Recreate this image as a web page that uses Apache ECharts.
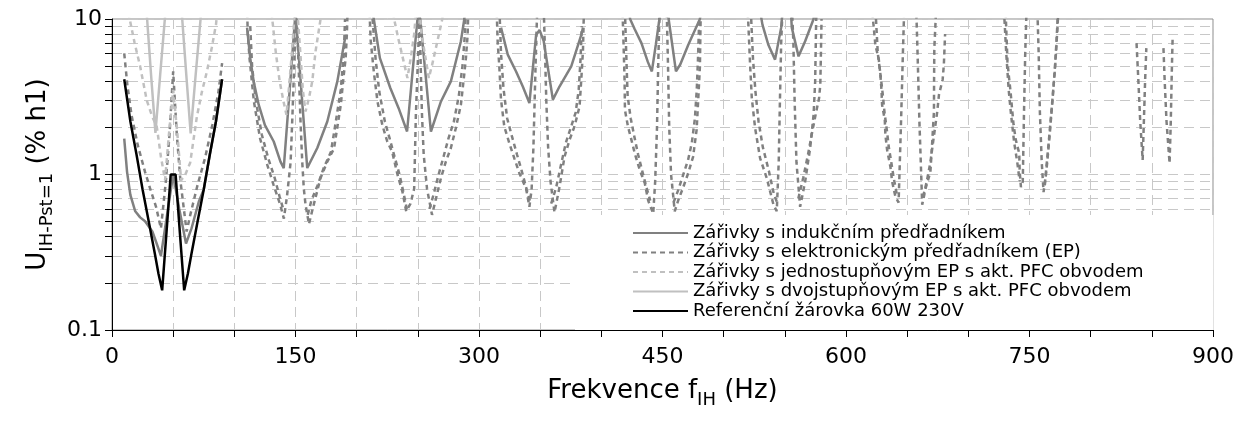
<!DOCTYPE html>
<html>
<head>
<meta charset="utf-8">
<script src="https://cdn.jsdelivr.net/npm/echarts@6/dist/echarts.min.js"></script>
<style>html,body{margin:0;padding:0;background:#fff}#c{width:1246px;height:423px}</style>
</head>
<body>
<div id="c"></div>
<script>
// ---------- axis ticks / labels ----------
const xTicks = [0,50,100,150,200,250,300,350,400,450,500,550,600,650,700,750,800,850,900];
const xLabels = [0,150,300,450,600,750,900];
const yTicks = [0.1,0.2,0.3,0.4,0.5,0.6,0.7,0.8,0.9,1,2,3,4,5,6,7,8,9,10];
const yLabels = [0.1,1,10];

const seriesNames = [
  'Zářivky s indukčním předřadníkem',
  'Zářivky s elektronickým předřadníkem (EP)',
  'Zářivky s jednostupňovým EP s akt. PFC obvodem',
  'Zářivky s dvojstupňovým EP s akt. PFC obvodem',
  'Referenční žárovka 60W 230V'
];

// ---------- data: [frequency Hz, U %h1] ----------
// induction ballast
const indG1 = [[10,1.7],[12.3,1.04],[15,0.74],[19,0.58],[23,0.53],[27,0.5],[33,0.43],[36.5,0.36],[40,0.3],[45,0.55],[50,1.0],[55,0.6],[60.5,0.36],[65,0.45],[71,0.67],[75,0.8],[80,1.35],[85,2.2],[90,4.1]];
const indG3 = [[110.4,8.8],[113,5.6],[115.8,3.97],[119.9,2.81],[125,2.08],[132.2,1.63],[137.7,1.21],[140.4,1.1],[145,3.3],[150,11],[155,3.3],[159.6,1.1],[167.8,1.48],[176,2.19],[184.2,3.97],[191,7.9]];
const indG5 = [[213,11],[214,10],[219,5.6],[227.5,3.6],[234.3,2.67],[241.2,1.89],[245.5,4.4],[249.7,10],[250.5,11],[251.5,11],[252,10],[256.3,4.4],[260.7,1.89],[268.9,2.95],[277,3.97],[285.2,7.2],[288,10],[288.5,11]];
const indG7 = [[318,8.8],[323.5,5.9],[330.3,4.6],[335.8,3.68],[341.2,2.88],[346.7,7.9],[349.5,8.5],[352.9,7.2],[360.4,3.03],[365.8,3.68],[375.4,4.96],[383.6,7.9],[385,8.8]];
const indG9 = [[423,11],[423.5,10],[427.3,8.6],[432.8,7.0],[438,5.3],[441.3,4.6],[444.5,6.8],[447.5,10],[448,11],[454.5,11],[455,10],[458,6.8],[461,4.6],[464.5,5.1],[471,6.8],[480.6,10],[481,11]];
const indG11 = [[530,11],[531.7,9.2],[536.6,6.8],[542,5.48],[547,8.8],[548,11],[555,11],[555.7,8.8],[561.2,5.75],[566.6,7.2],[573.5,10],[574,11]];

// electronic ballast (lamp A)
const epG1 = [[10,6.0],[12.5,3.8],[16,2.4],[21,1.55],[27,1.04],[31,0.82],[36,0.62],[40,0.45],[44,0.9],[47,1.8],[50,4.6],[53,1.8],[56,0.9],[61,0.43],[64,0.55],[70,0.86],[76,1.27],[82,2.08],[87,3.4],[90,5.2]];
const epG3 = [[110.5,11],[111,8.0],[112.5,5.5],[116,2.95],[121,1.71],[127,1.15],[132,0.86],[137.5,0.64],[140.5,0.52],[143,0.72],[146,1.2],[147.5,2.4],[149,5.2],[150.3,11],[151,11],[151.4,8.8],[152.7,4.6],[154.1,2.19],[155.5,1.21],[156.8,0.81],[158.2,0.64],[161,0.48],[164,0.6],[170.5,0.95],[176,1.21],[181.5,1.47],[187,2.8],[189.5,4.4],[191,5.6],[192,8],[192.5,11]];
const epG5 = [[210.5,11],[211.5,7.2],[214,4.6],[217,2.95],[221,2.08],[225,1.63],[229,1.4],[233.5,0.99],[237.5,0.77],[240.5,0.58],[244,0.65],[247,0.81],[248.4,2.42],[249.8,4.8],[251,8.8],[251.5,11],[251.8,8],[252.5,4.4],[253.4,2.42],[254.8,1.34],[257.5,0.81],[261.6,0.55],[264.8,0.7],[268.9,0.95],[272.9,1.21],[277,1.48],[281,1.98],[285.2,2.81],[287.9,4.38],[289.3,5.6],[290.7,7.9],[291.2,11]];
const epG7 = [[314.5,11],[315.3,7.0],[316.6,4.96],[318,3.03],[320.7,2.03],[324.8,1.59],[328.9,1.27],[333,1.02],[338.5,0.81],[341.2,0.62],[343,0.8],[344.5,1.5],[345.5,3],[346.5,6],[347.5,11],[353,11],[354,6],[355,3],[356.5,1.5],[358.5,0.9],[361.7,0.57],[365.8,0.83],[369.9,1.3],[374,1.67],[378,2.03],[382.2,2.74],[383.6,4.07],[385,6.3],[385.5,9.4],[385.8,11]];
const epG9 = [[417.3,11],[417.8,8.6],[419,4.07],[419.3,2.6],[421.8,2.03],[424.6,1.67],[427.3,1.37],[431.4,1.07],[435.5,0.88],[438.3,0.68],[442.4,0.56],[444,0.9],[445.5,2],[446.5,5],[447.5,11],[453.5,11],[454.5,5],[455.5,2],[457,1.0],[460,0.58],[462.8,0.68],[467,0.83],[471,1.02],[475,1.3],[477.9,1.94],[479.2,3.03],[480.6,4.96],[481,8.5],[481.3,11]];
const epG11 = [[519.5,11],[520,10],[521.6,5.1],[523,3.1],[525.7,1.99],[529.8,1.27],[535.2,0.95],[540.7,0.64],[543.4,0.58],[545,1.2],[546,3],[547,7],[548,11],[556,11],[557,7],[558,3],[559.5,1.2],[562.5,0.62],[566.6,0.9],[570.7,1.48],[573.5,2.42],[574.8,3.97],[575.5,8.8],[575.8,11]];
const epG13 = [[621.5,11],[622.7,8.8],[624,6.8],[626.8,5.5],[628.1,4.4],[629,3.5],[629.5,2.8],[631.7,2.25],[632.2,1.8],[633.6,1.44],[636.3,1.12],[637.7,0.9],[640.4,0.72],[643,0.66],[645,2.2],[646.5,6],[647.5,11],[657.5,11],[658.5,6],[660,2.2],[662.3,0.64],[665,0.81],[669,1.04],[670.5,1.63],[671.9,2.54],[672,4.07],[672.2,6.5],[673,8.8],[673.5,11]];
const epG15 = [[730.5,11],[732,5.3],[733.3,4.17],[734.5,3.42],[735.7,2.67],[737,2.08],[738.8,1.67],[741.6,1.37],[742,1.04],[743,0.83],[744.5,0.9],[745.5,2.5],[746.5,6],[747.5,11],[756.5,11],[757.5,6],[758.5,2.5],[760,1.2],[761.5,0.77],[763,0.95],[765,1.4],[767,2.1],[769,3.2],[771,5],[773,9.2],[773.5,11]];
const epG17L = [[837.5,7.0],[839,4],[840.5,2.2],[842.5,1.24],[843.5,2.2],[844.5,4.0],[845.5,6.5]];
const epG17R = [[859.5,6.5],[860.5,4],[862,2.2],[864.5,1.18],[865.5,2.2],[866.3,4.5],[867,7.6]];

// electronic ballast (lamp B, outer branches)
const epbG3L = [[113,9],[114.5,5],[117.5,3.0],[122.5,1.8],[128,1.25],[133,0.95],[137,0.72],[140,0.6]];
const epbG3R = [[160,0.55],[163,0.68],[168,0.85],[173,1.1],[179,1.4],[183,2.2],[187,3.5],[189.5,6],[190.5,10]];
const epbG5L = [[213,10],[215.5,5.5],[218.5,3.4],[223,2.2],[227,1.7],[231,1.3],[235,1.0],[238.5,0.75],[241,0.6]];
const epbG5R = [[259.5,0.6],[263,0.75],[267,1.0],[271,1.3],[275,1.7],[279.5,2.2],[283.5,3.2],[286.5,5],[288.5,8],[289,10]];
const epbG7L = [[317,10],[318,6],[320,3.6],[323,2.3],[327,1.75],[331,1.35],[335,1.05],[339,0.8],[342,0.66]];
const epbG7R = [[359,0.65],[363,0.82],[367,1.15],[371,1.6],[375,2.0],[379,2.5],[381.5,3.5],[383,5.5],[384,9]];
const epbG9L = [[419.5,10],[420.5,5.5],[421.5,3.2],[424,2.3],[427,1.75],[430,1.35],[433.5,1.05],[437,0.82],[440,0.68]];
const epbG9R = [[459,0.66],[463,0.8],[467,1.0],[471,1.25],[474,1.6],[476.5,2.3],[478,3.5],[479,5.5],[480,10]];
const epbG11L = [[522.5,10],[524,5.5],[526,3.4],[528.5,2.2],[532,1.5],[537,1.05],[541,0.75],[544,0.65]];
const epbG11R = [[561,0.7],[565,0.95],[569,1.35],[572.5,1.9],[575.5,2.5],[578,3.1],[579,3.8],[579.5,6],[580,10]];
const epbG13L = [[624.5,10],[626,6],[628,4.5],[630,3.3],[631.5,2.5],[633.5,1.9],[635,1.5],[637,1.2],[639,0.95],[641.5,0.75]];
const epbG13R = [[663,0.72],[666,0.9],[669,1.2],[672,1.8],[674.6,2.54],[676,3.26],[679,4.07],[680,5.1],[681,8]];
const epbG15L = [[729.5,10],[731,6],[733,3.5],[735,2.4],[737.5,1.6],[740,1.2],[742,0.9]];
const epbG15R = [[762.5,0.85],[764.5,1.2],[766.5,1.8],[768.5,2.8],[770.5,4.5],[772,7],[773,10]];

// single-stage EP with active PFC
const pfc1G1 = [[13.5,11],[14.8,9.7],[18.5,7],[23,4.96],[28.4,3.0],[32.5,2.4],[36.6,2.03],[40,1.3],[43.4,0.92],[46.5,1.8],[50,3.5],[53.5,1.8],[56.5,0.92],[60,1.0],[63.9,1.19],[69.4,2.36],[73.5,3.4],[77.6,4.6],[81.5,6.5],[85,9.2],[86,11]];
const pfc1G3 = [[130.5,11],[131,10],[134,6],[137,4],[140,3],[142.6,2.42],[144.5,3.5],[147,6],[149,10],[149.5,11],[151.5,11],[152,10],[154,6],[156,3.5],[158.2,2.54],[161,3.1],[163.7,3.97],[166.4,6.2],[170.5,10],[171,11]];
const pfc1G5 = [[230,11],[230.6,10],[234,7.5],[238,5.5],[241.5,4.17],[244.5,5.8],[247,8],[248.5,11],[251.5,11],[253,8],[256,5.8],[259,4.17],[262,5.2],[266,7.2],[270,10],[270.5,11]];

// two-stage EP with active PFC
const pfc2G1L = [[28.3,11],[28.7,10],[32,4.3],[35.5,1.85],[39.3,4.3],[43.2,10],[43.6,11]];
const pfc2G1R = [[57,11],[57.4,10],[60.8,4.3],[64.3,1.84],[68.3,4.3],[72.4,10],[72.8,11]];

// reference incandescent lamp
const refG1 = [[10,4.1],[15,2.2],[20,1.35],[25,0.8],[30,0.5],[35,0.31],[38,0.23],[41,0.18],[44.5,0.42],[48,1.0],[52,1.0],[55.5,0.42],[59,0.18],[62,0.23],[65,0.31],[70,0.5],[75,0.8],[80,1.35],[85,2.2],[90,4.1]];

// ---------- helpers ----------
function joinGroups(groups) {
  const out = [];
  groups.forEach((g, i) => {
    if (i) out.push(['-', '-']);
    g.forEach(p => out.push(p));
  });
  return out;
}

const FONT = 'DejaVu Sans';
const GRAY = '#808080';
const LIGHT = '#c0c0c0';

function lineSeries(name, data, color, type, z) {
  return {
    name: name, type: 'line', data: data,
    symbol: 'none', clip: true,
    connectNulls: false, z: z, animation: false,
    lineStyle: { color: color, width: 2.5, type: type },
    itemStyle: { color: color }
  };
}

const chart = echarts.init(document.getElementById('c'), null, { renderer: 'canvas' });
chart.setOption({
  animation: false,
  backgroundColor: '#fff',
  grid: { left: 112, right: 33, top: 19, bottom: 93, show: true, borderColor: '#8c8c8c', borderWidth: 1, containLabel: false },
  legend: {
    orient: 'vertical', left: 575, top: 215,
    data: seriesNames,
    backgroundColor: '#fff',
    padding: [9, 70, 10, 57],
    itemWidth: 55, itemHeight: 14, itemGap: 1.5,
    itemStyle: { opacity: 0 },
    textStyle: { fontFamily: FONT, fontSize: 18, color: '#000' },
    selectedMode: false
  },
  xAxis: {
    type: 'value', min: 0, max: 900,
    axisLine: { show: true, onZero: false, lineStyle: { color: '#000', width: 1 } },
    axisTick: { show: true, length: 7, inside: false, customValues: xTicks, lineStyle: { color: '#000' } },
    axisLabel: { customValues: xLabels, fontFamily: FONT, fontSize: 22, color: '#000', margin: 16 },
    splitLine: { show: true, lineStyle: { color: '#c8c8c8', width: 1, type: [10, 6] } },
    name: 'Frekvence f{sub|IH} (Hz)', nameLocation: 'middle', nameGap: 42,
    nameTextStyle: { fontFamily: FONT, fontSize: 26, color: '#000', lineHeight: 36,
      rich: { sub: { fontFamily: FONT, fontSize: 18, color: '#000', verticalAlign: 'bottom', lineHeight: 20 } } }
  },
  yAxis: {
    type: 'log', logBase: 10, min: 0.1, max: 10,
    axisLine: { show: true, onZero: false, lineStyle: { color: '#000', width: 1 } },
    axisTick: { show: true, length: 7, inside: false, customValues: yTicks, lineStyle: { color: '#000' } },
    axisLabel: { customValues: yLabels, fontFamily: FONT, fontSize: 22, color: '#000', margin: 10 },
    splitLine: { show: true, lineStyle: { color: '#c8c8c8', width: 1, type: [10, 6] } },
    name: 'U{sub|IH-Pst=1} (% h1)', nameLocation: 'middle', nameGap: 55, nameRotate: 90,
    nameTextStyle: { fontFamily: FONT, fontSize: 26, color: '#000', lineHeight: 36,
      rich: { sub: { fontFamily: FONT, fontSize: 18, color: '#000', verticalAlign: 'bottom', lineHeight: 20 } } }
  },
  series: [
    lineSeries(seriesNames[0], joinGroups([indG1, indG3, indG5, indG7, indG9, indG11]), GRAY, 'solid', 2),
    lineSeries(seriesNames[1], joinGroups([epG1, epG3, epG5, epG7, epG9, epG11, epG13, epG15, epG17L, epG17R]), GRAY, [5, 4], 2),
    lineSeries(seriesNames[1], joinGroups([epbG3L, epbG3R, epbG5L, epbG5R, epbG7L, epbG7R, epbG9L, epbG9R, epbG11L, epbG11R, epbG13L, epbG13R, epbG15L, epbG15R]), GRAY, [5, 4], 2),
    lineSeries(seriesNames[2], joinGroups([pfc1G1, pfc1G3, pfc1G5]), LIGHT, [5, 4], 2),
    lineSeries(seriesNames[3], joinGroups([pfc2G1L, pfc2G1R]), LIGHT, 'solid', 2),
    lineSeries(seriesNames[4], joinGroups([refG1]), '#000', 'solid', 3)
  ]
});
</script>
</body>
</html>
